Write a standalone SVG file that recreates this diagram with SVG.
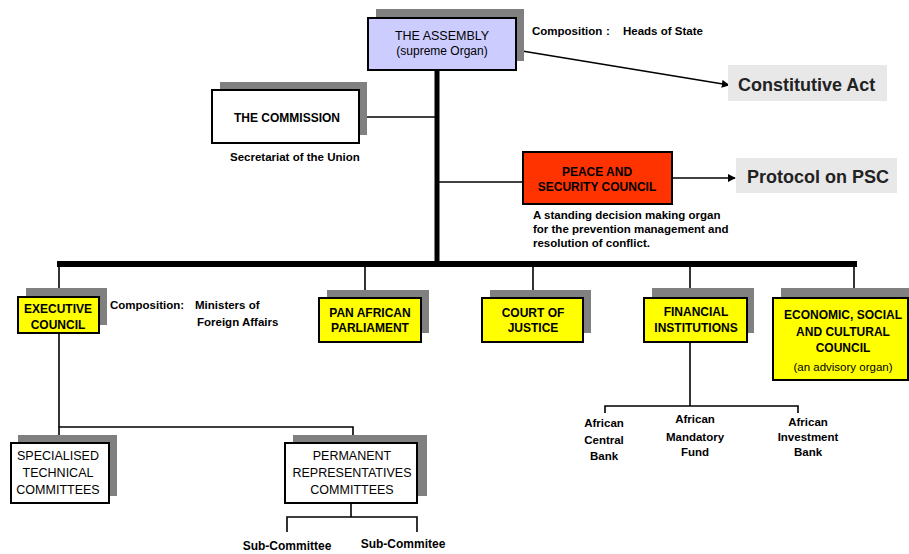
<svg xmlns="http://www.w3.org/2000/svg" width="909" height="554" viewBox="0 0 909 554">
<defs>
<marker id="arr" viewBox="0 0 10 10" refX="9" refY="5" markerWidth="8" markerHeight="8" markerUnits="userSpaceOnUse" orient="auto"><path d="M0,0 L10,5 L0,10 z" fill="#000"/></marker>
<style>
.sh{fill:#808080}
.bx{stroke:#000;stroke-width:2}
.w{fill:#fff}
.y{fill:#ffff00}
.t{font-family:"Liberation Sans",Arial,sans-serif;fill:#000}
.b{font-weight:bold;font-size:12px}
.r{font-size:12.5px}
.n{font-weight:bold;font-size:11.5px}
.big{font-weight:bold;font-size:18px;fill:#222}
.c{text-anchor:middle}
.ln{stroke:#000;stroke-width:1.6;fill:none}
</style>
</defs>
<rect width="909" height="554" fill="#fff"/>
<g id="connectors">
<line class="ln" x1="516" y1="50" x2="729" y2="85" marker-end="url(#arr)"/>
<line x1="437" y1="66" x2="437" y2="264" stroke="#000" stroke-width="5"/>
<line class="ln" x1="359" y1="117" x2="437" y2="117"/>
<line class="ln" x1="437" y1="182" x2="523" y2="182"/>
<line class="ln" x1="672" y1="178" x2="735" y2="178" marker-end="url(#arr)"/>
<line x1="57" y1="264" x2="857" y2="264" stroke="#000" stroke-width="6"/>
<line class="ln" x1="59" y1="264" x2="59" y2="297"/>
<line class="ln" x1="59" y1="333" x2="59" y2="427"/>
<line class="ln" x1="365" y1="264" x2="365" y2="298"/>
<line class="ln" x1="533" y1="264" x2="533" y2="298"/>
<line class="ln" x1="690" y1="264" x2="690" y2="298"/>
<line class="ln" x1="690" y1="342" x2="690" y2="406"/>
<line class="ln" x1="854" y1="264" x2="854" y2="298"/>
<path class="ln" d="M605,413 V406 H798 V413"/>
<path class="ln" d="M59,443 V427 H353 V443"/>
<line class="ln" x1="351" y1="503" x2="351" y2="517"/>
<path class="ln" d="M287,532 V517 H417 V532"/>
</g>
<g id="assembly">
<rect class="sh" x="376" y="9" width="148" height="52"/>
<rect class="bx" x="368" y="18" width="148" height="52" fill="#ccccff"/>
<text class="t r c" x="442" y="40">THE ASSEMBLY</text>
<text class="t c" x="442" y="55" style="font-size:12px">(supreme Organ)</text>
</g>
<g id="assembly-composition">
<text class="t n" x="532" y="35">Composition</text>
<text class="t n" x="606" y="35">:</text>
<text class="t n" x="623" y="35">Heads of State</text>
</g>
<g id="constitutive-act">
<rect x="728" y="65" width="159" height="36" fill="#e8e8e8"/>
<text class="t big" x="738" y="91">Constitutive Act</text>
</g>
<g id="commission">
<rect class="sh" x="220" y="82" width="147" height="53"/>
<rect class="bx w" x="212" y="90" width="147" height="53"/>
<text class="t b c" x="287" y="122">THE COMMISSION</text>
<text class="t n" x="230" y="161">Secretariat of the Union</text>
</g>
<g id="psc">
<rect class="bx" x="523" y="152" width="149" height="52" fill="#ff3300"/>
<text class="t b c" x="597" y="176">PEACE AND</text>
<text class="t b c" x="597" y="191">SECURITY COUNCIL</text>
<text class="t n" x="533" y="219">A standing decision making organ</text>
<text class="t n" x="533" y="233">for the prevention management and</text>
<text class="t n" x="533" y="247">resolution of conflict.</text>
</g>
<g id="protocol-psc">
<rect x="736" y="158" width="161" height="35" fill="#e8e8e8"/>
<text class="t big" x="747" y="183">Protocol on PSC</text>
</g>
<g id="executive-council">
<rect class="sh" x="26" y="288" width="81" height="37"/>
<rect class="bx y" x="18" y="297" width="81" height="36"/>
<text class="t b c" x="58" y="313">EXECUTIVE</text>
<text class="t b c" x="58" y="329">COUNCIL</text>
<text class="t n" x="110" y="309">Composition:</text>
<text class="t n" x="195" y="309">Ministers of</text>
<text class="t n" x="197" y="326">Foreign Affairs</text>
</g>
<g id="pan-african-parliament">
<rect class="sh" x="327" y="290" width="102" height="43"/>
<rect class="bx y" x="319" y="298" width="102" height="44"/>
<text class="t b c" x="370" y="317">PAN AFRICAN</text>
<text class="t b c" x="370" y="332">PARLIAMENT</text>
</g>
<g id="court-of-justice">
<rect class="sh" x="490" y="290" width="101" height="43"/>
<rect class="bx y" x="482" y="298" width="101" height="44"/>
<text class="t b c" x="533" y="317">COURT OF</text>
<text class="t b c" x="533" y="332">JUSTICE</text>
</g>
<g id="financial-institutions">
<rect class="sh" x="652" y="288" width="102" height="45"/>
<rect class="bx y" x="644" y="298" width="103" height="44"/>
<text class="t b c" x="696" y="316">FINANCIAL</text>
<text class="t b c" x="696" y="332">INSTITUTIONS</text>
</g>
<g id="ecosocc">
<rect class="sh" x="781" y="288" width="140" height="80"/>
<rect class="bx y" x="773" y="298" width="135" height="82"/>
<text class="t b c" x="843" y="319">ECONOMIC, SOCIAL</text>
<text class="t b c" x="843" y="336">AND CULTURAL</text>
<text class="t b c" x="843" y="352">COUNCIL</text>
<text class="t c" x="843" y="371" style="font-size:11.5px">(an advisory organ)</text>
</g>
<g id="african-central-bank">
<text class="t n c" x="604" y="427">African</text>
<text class="t n c" x="604" y="444">Central</text>
<text class="t n c" x="604" y="460">Bank</text>
</g>
<g id="african-mandatory-fund">
<text class="t n c" x="695" y="423">African</text>
<text class="t n c" x="695" y="441">Mandatory</text>
<text class="t n c" x="695" y="456">Fund</text>
</g>
<g id="african-investment-bank">
<text class="t n c" x="808" y="426">African</text>
<text class="t n c" x="808" y="441">Investment</text>
<text class="t n c" x="808" y="456">Bank</text>
</g>
<g id="specialised-technical-committees">
<rect class="sh" x="18" y="435" width="99" height="61"/>
<rect class="bx w" x="11" y="443" width="98" height="60"/>
<text class="t r c" x="58" y="460">SPECIALISED</text>
<text class="t r c" x="58" y="477">TECHNICAL</text>
<text class="t r c" x="58" y="494">COMMITTEES</text>
</g>
<g id="permanent-representatives-committees">
<rect class="sh" x="293" y="435" width="134" height="61"/>
<rect class="bx w" x="285" y="443" width="132" height="60"/>
<text class="t r c" x="352" y="460">PERMANENT</text>
<text class="t r c" x="352" y="477">REPRESENTATIVES</text>
<text class="t r c" x="352" y="494">COMMITTEES</text>
</g>
<g id="sub-committee-1">
<text class="t c" x="287" y="550" style="font-size:12px;font-weight:bold">Sub-Committee</text>
</g>
<g id="sub-committee-2">
<text class="t c" x="403" y="548" style="font-size:12px;font-weight:bold">Sub-Commitee</text>
</g>
</svg>
